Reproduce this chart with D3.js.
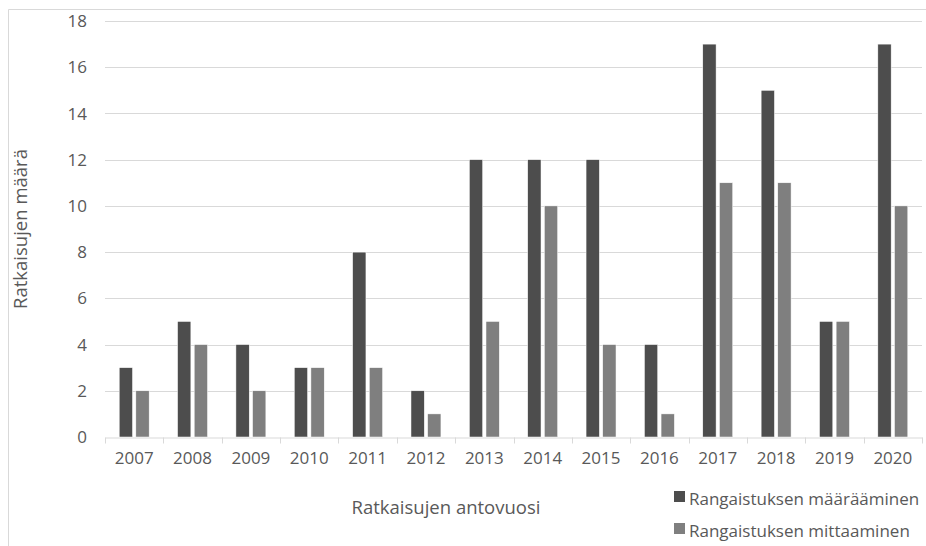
<!DOCTYPE html>
<html>
<head>
<meta charset="utf-8">
<script src="https://cdn.jsdelivr.net/npm/d3@7"></script>
<style>
  html, body { margin: 0; padding: 0; background: #fff; }
  svg { display: block; }
  text { font-family: "Open Sans", sans-serif; fill: #595959; }
</style>
</head>
<body>
<svg id="chart" width="926" height="546"></svg>
<script>
// Yearly counts of decisions
const years = ["2007","2008","2009","2010","2011","2012","2013","2014","2015","2016","2017","2018","2019","2020"];
const seriesNames = ["Rangaistuksen määrääminen", "Rangaistuksen mittaaminen"];
const maaraaminen = [3, 5, 4, 3, 8, 2, 12, 12, 12, 4, 17, 15, 5, 17];
const mittaaminen = [2, 4, 2, 3, 3, 1, 5, 10, 4, 1, 11, 11, 5, 10];
const yTicks = [0, 2, 4, 6, 8, 10, 12, 14, 16, 18];
const colors = ["#4d4d4d", "#7f7f7f"];

const svg = d3.select("#chart");
const W = 926, H = 546;
const plot = { left: 105, right: 922, top: 21, bottom: 437 };

// chart area frame (top and left edges)
svg.append("path")
  .attr("d", `M8.5,${H} V9.5 H${W}`)
  .attr("fill", "none")
  .attr("stroke", "#d9d9d9")
  .attr("stroke-width", 1);

const x0 = d3.scaleBand().domain(years).range([plot.left, plot.right]).padding(0);
const x1 = d3.scaleBand().domain(seriesNames)
  .range([14.2, x0.bandwidth() - 14.2]).paddingInner(0.2);
const y = d3.scaleLinear().domain([0, 18]).range([plot.bottom, plot.top]);

// horizontal gridlines
svg.append("g")
  .selectAll("line")
  .data(yTicks.filter(d => d > 0))
  .join("line")
  .attr("x1", plot.left).attr("x2", plot.right)
  .attr("y1", d => Math.round(y(d)) + 0.5).attr("y2", d => Math.round(y(d)) + 0.5)
  .attr("stroke", "#d9d9d9").attr("stroke-width", 1);

// y tick labels
svg.append("g")
  .selectAll("text")
  .data(yTicks)
  .join("text")
  .attr("x", 87)
  .attr("y", d => y(d))
  .attr("dy", "0.36em")
  .attr("text-anchor", "end")
  .attr("font-size", 17)
  .text(d => d);

// bars
const rows = years.map((yr, i) => ({ year: yr, values: [maaraaminen[i], mittaaminen[i]] }));
const groups = svg.append("g")
  .selectAll("g")
  .data(rows)
  .join("g")
  .attr("transform", d => `translate(${x0(d.year)},0)`);

groups.selectAll("rect")
  .data(d => d.values.map((v, k) => ({ key: seriesNames[k], value: v, k })))
  .join("rect")
  .attr("x", d => x1(d.key))
  .attr("width", x1.bandwidth())
  .attr("y", d => y(d.value))
  .attr("height", d => y(0) - y(d.value))
  .attr("fill", d => colors[d.k])
  .attr("stroke", "#ffffff")
  .attr("stroke-width", 0.5);

// x axis
const xAxis = d3.axisBottom(x0).tickSize(0).tickPadding(14);
const xg = svg.append("g")
  .attr("transform", `translate(0,${Math.round(y(0)) + 0.5})`)
  .call(xAxis);
xg.select(".domain").attr("stroke", "#d9d9d9");
xg.selectAll(".tick text")
  .attr("font-size", 17)
  .attr("font-family", "Open Sans, sans-serif")
  .attr("fill", "#595959");

// category boundary ticks
xg.append("g")
  .selectAll("line")
  .data(d3.range(years.length + 1))
  .join("line")
  .attr("x1", i => Math.round(plot.left + i * x0.step()) + 0.5)
  .attr("x2", i => Math.round(plot.left + i * x0.step()) + 0.5)
  .attr("y1", 0).attr("y2", 6)
  .attr("stroke", "#d9d9d9");

// axis titles
svg.append("text")
  .attr("transform", `translate(27,${(plot.top + plot.bottom) / 2}) rotate(-90)`)
  .attr("text-anchor", "middle")
  .attr("font-size", 18.5)
  .text("Ratkaisujen määrä");

svg.append("text")
  .attr("x", 446).attr("y", 514)
  .attr("text-anchor", "middle")
  .attr("font-size", 18.5)
  .text("Ratkaisujen antovuosi");

// legend
const legend = svg.append("g")
  .selectAll("g")
  .data(seriesNames)
  .join("g")
  .attr("transform", (d, i) => `translate(674,${505 + i * 32})`);
legend.append("rect")
  .attr("x", 0).attr("y", -14)
  .attr("width", 11).attr("height", 11)
  .attr("fill", (d, i) => colors[i]);
legend.append("text")
  .attr("x", 15).attr("y", 0)
  .attr("font-size", 17)
  .text(d => d);
</script>
</body>
</html>
